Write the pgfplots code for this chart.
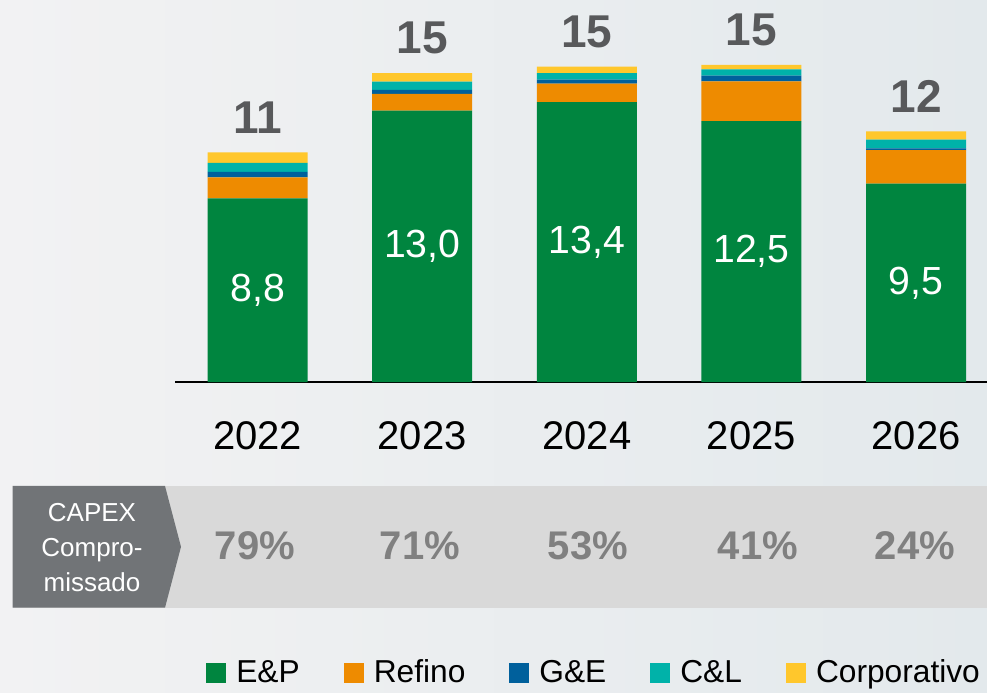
\documentclass[border=0pt]{standalone}
\usepackage{fontspec}
\setmainfont{Liberation Sans}
\usepackage{pgfplots}
\pgfplotsset{compat=1.18}
\usepackage{pgfplotstable}

\definecolor{ep}{HTML}{00853F}
\definecolor{refino}{HTML}{EE8B00}
\definecolor{ge}{HTML}{00609C}
\definecolor{cl}{HTML}{00B2A9}
\definecolor{corp}{HTML}{FFC72C}
\definecolor{bgl}{HTML}{F2F2F3}
\definecolor{bgr}{HTML}{E3E9EC}
\definecolor{band}{HTML}{D9D9D9}
\definecolor{tag}{HTML}{717477}
\definecolor{total}{HTML}{58595B}
\definecolor{pct}{HTML}{808080}

% CAPEX por segmento (US$ bi)
\pgfplotstableread{
x ep   ref  ge   cl   corp total
0 8.8  1.00 0.27 0.42 0.51 11
1 13.0 0.80 0.19 0.40 0.40 15
2 13.4 0.89 0.19 0.31 0.32 15
3 12.5 1.90 0.27 0.31 0.21 15
4 9.5  1.61 0.08 0.42 0.40 12
}\capex

\pgfplotsset{frame/.style={
    at={(87.5pt,155pt)}, anchor=south west,
    scale only axis, width=406pt, height=187.9pt,
    xmin=-0.502, xmax=4.431, ymin=0, ymax=18,
    bar width=50pt, clip=false,
    /pgf/number format/assume math mode=true}}

\begin{document}
\begin{tikzpicture}
\shade[left color=bgl, right color=bgr] (0,0) rectangle (493.5pt,346pt);
\fill[band] (6.35pt,42.15pt) rectangle (493.5pt,103pt);
\fill[tag] (6.35pt,103pt) -- (82.5pt,103pt) -- (90.5pt,72.6pt) -- (82.5pt,42.15pt) -- (6.35pt,42.15pt) -- cycle;
\node[text=white, align=center, font=\fontsize{13}{17.5}\selectfont] at (46pt,72pt) {CAPEX\\Compro-\\missado};
\foreach \x/\p in {127.5/79,210/71,294/53,379/41,457.5/24}
  \node[font=\bfseries\fontsize{20}{24}\selectfont, text=pct] at (\x pt,73.3pt) {\p\%};

\begin{axis}[
    frame,
    ybar stacked,
    axis x line*=bottom, axis y line=none,
    axis line style={-, line width=1pt, black},
    xtick=data, xticklabels={2022,2023,2024,2025,2026},
    major tick length=0pt,
    xticklabel style={font=\fontsize{20}{24}\selectfont, yshift=-16.1pt},
    legend columns=-1,
    legend style={draw=none, fill=none,
        at={(axis description cs:0.518,-0.774)}, anchor=center,
        font=\fontsize{15.85}{19}\selectfont,
        /tikz/every odd column/.append style={column sep=2.5pt},
        /tikz/every even column/.append style={column sep=19.5pt},
        nodes={inner xsep=2.5pt}},
    legend image code/.code={\path[fill,#1] (0pt,-5pt) rectangle (10pt,5pt);},
]
\addplot[fill=ep, draw=none,
    nodes near coords={\pgfmathprintnumber[fixed, fixed zerofill, precision=1, use comma]{\pgfplotspointmeta}},
    point meta=y,
    every node near coord/.append style={anchor=center, text=white,
        font=\fontsize{19.6}{22}\selectfont}]
    table[x=x, y=ep]{\capex};
\addplot[fill=refino, draw=none] table[x=x, y=ref]{\capex};
\addplot[fill=ge, draw=none] table[x=x, y=ge]{\capex};
\addplot[fill=cl, draw=none] table[x=x, y=cl]{\capex};
\addplot[fill=corp, draw=none] table[x=x, y=corp]{\capex};
\legend{E\&P, Refino, G\&E, C\&L, Corporativo}
\end{axis}

% totals above the stacks
\begin{axis}[frame, ybar, hide axis]
\addplot[draw=none, fill=none,
    nodes near coords={\pgfmathprintnumber[fixed, precision=0]{\pgfplotspointmeta}},
    point meta=explicit,
    every node near coord/.append style={anchor=south, inner sep=0pt, yshift=9.25pt,
        text=total, font=\bfseries\fontsize{23}{26}\selectfont}]
    table[x=x, y expr=\thisrow{ep}+\thisrow{ref}+\thisrow{ge}+\thisrow{cl}+\thisrow{corp}, meta=total]{\capex};
\end{axis}
\pgfresetboundingbox
\useasboundingbox (0,0) rectangle (493.5pt,346pt);
\end{tikzpicture}
\end{document}
